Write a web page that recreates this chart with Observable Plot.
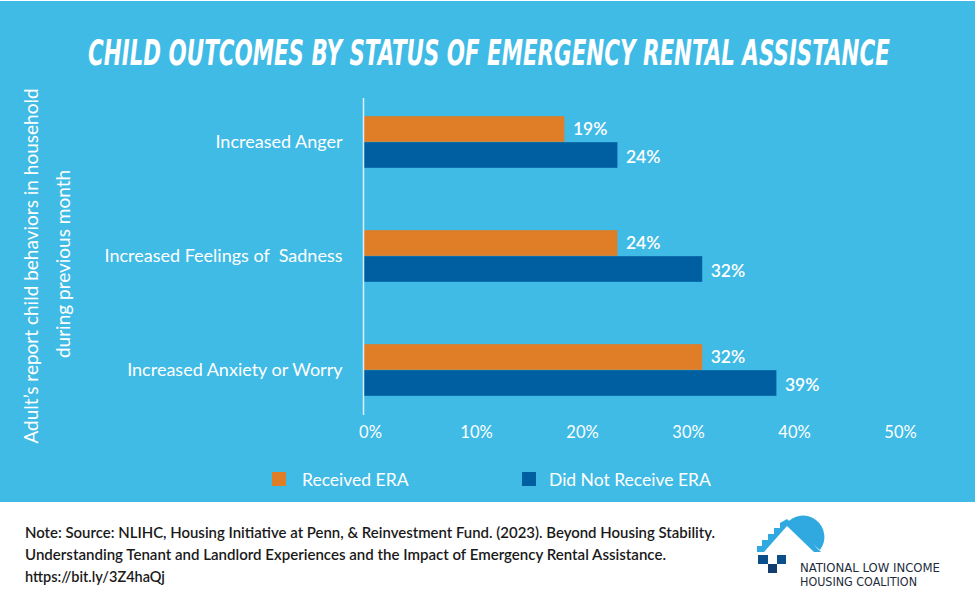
<!DOCTYPE html>
<html>
<head>
<meta charset="utf-8">
<script src="https://cdn.jsdelivr.net/npm/d3@7"></script>
<script src="https://cdn.jsdelivr.net/npm/@observablehq/plot@0.6"></script>
<style>
  html, body { margin: 0; padding: 0; background: #ffffff; }
  #page { position: relative; width: 975px; height: 600px; overflow: hidden; font-family: Lato, "Open Sans", sans-serif; }
  #panel { position: absolute; left: 0; top: 1px; width: 975px; height: 501px; background: #40BBE6; }
  #chart { position: absolute; left: 0; top: 0; }
  .abs { position: absolute; }
  .legend-item { position: absolute; top: 468px; display: flex; align-items: center; color: #ffffff; font-size: 17.5px; height: 22px; }
  .swatch { width: 14px; height: 14px; }
</style>
</head>
<body>
<div id="page">
  <div id="panel"></div>
  <svg class="abs" style="left:0;top:0" width="975" height="502">
    <text id="title" x="489" y="65" text-anchor="middle"
      fill="#ffffff" font-family="'Liberation Sans Narrow', 'DejaVu Sans Condensed', sans-serif" font-style="italic" font-weight="bold" font-size="35">CHILD OUTCOMES BY STATUS OF EMERGENCY RENTAL ASSISTANCE</text>
    <g fill="#ffffff" font-family="Lato, sans-serif" font-size="19" text-anchor="middle" dominant-baseline="central">
      <text transform="translate(30,266) rotate(-90)">Adult’s report child behaviors in household</text>
      <text transform="translate(62,264) rotate(-90)">during previous month</text>
    </g>
  </svg>
  <div id="chart"></div>
  <div class="legend-item" style="left:272px"><div class="swatch" style="background:#E07E27;margin-right:16px"></div><span>Received ERA</span></div>
  <div class="legend-item" style="left:522px"><div class="swatch" style="background:#005FA0;margin-right:13px"></div><span>Did Not Receive ERA</span></div>
  <svg class="abs" style="left:0;top:502px" width="975" height="98">
    <g fill="#1a1a1a" font-family="Lato, sans-serif" font-size="14.5" font-weight="600">
      <text x="25" y="36" textLength="690" lengthAdjust="spacingAndGlyphs">Note:  Source: NLIHC, Housing Initiative at Penn, &amp; Reinvestment Fund. (2023). Beyond Housing Stability.</text>
      <text x="25" y="58" textLength="641" lengthAdjust="spacingAndGlyphs">Understanding Tenant and Landlord Experiences and the Impact of Emergency Rental Assistance.</text>
      <text x="25" y="80">https://bit.ly/3Z4haQj</text>
    </g>
    <!-- logo -->
    <g>
      <path d="M786,22 A20,20 0 0 1 820,48 Z" fill="#2FA9E0"/>
      <path d="M757,50 L757,44 L762,44 L762,38 L768,38 L768,32 L774,32 L774,26 L780,26 L780,21 L787,17 L821,50 L814,50 L787,24 L764,50 Z" fill="#2FA9E0"/>
      <rect x="758" y="53" width="10" height="9" fill="#0B4F8A"/>
      <rect x="777" y="53" width="9" height="9" fill="#0B4F8A"/>
      <rect x="768" y="62" width="9" height="9" fill="#123D6E"/>
      <g fill="#1d2b3a" font-family="'Liberation Sans Narrow', 'DejaVu Sans Condensed', sans-serif" font-size="13">
        <text x="800" y="70" textLength="140" lengthAdjust="spacingAndGlyphs">NATIONAL LOW INCOME</text>
        <text x="800" y="84" textLength="117" lengthAdjust="spacingAndGlyphs">HOUSING COALITION</text>
      </g>
    </g>
  </svg>
</div>
<script>
const categories = ["Increased Anger", "Increased Feelings of  Sadness", "Increased Anxiety or Worry"];
const seriesNames = ["Received ERA", "Did Not Receive ERA"];
const receivedERA = [19, 24, 32];
const didNotReceiveERA = [24, 32, 39];
const xTicks = [0, 10, 20, 30, 40, 50];
const seriesColors = ["#E07E27", "#005FA0"];

// fit the title to the reference width
(function () {
  const t = document.getElementById("title");
  const w = t.getComputedTextLength();
  const target = 802, cx = 489;
  if (w > 0) t.setAttribute("transform", `translate(${cx},0) scale(${target / w},1) translate(${-cx},0)`);
})();

const W = 975, H = 500;
const marginTop = 84, marginBottom = 73;
const band = (H - marginTop - marginBottom) / categories.length;
const barH = 26;

const rec = categories.map((c, i) => ({category: c, series: seriesNames[0], value: receivedERA[i]}));
const notRec = categories.map((c, i) => ({category: c, series: seriesNames[1], value: didNotReceiveERA[i]}));

const chart = Plot.plot({
  width: W,
  height: H,
  marginLeft: 363,
  marginRight: 82,
  marginTop,
  marginBottom,
  style: {background: "transparent", color: "#ffffff", fontFamily: "Lato, sans-serif", fontSize: "18px", overflow: "visible"},
  x: {domain: [0, 50], axis: null},
  y: {domain: categories, padding: 0, tickSize: 0, tickPadding: 21, label: null},
  marks: [
    Plot.barX(rec, {y: "category", x: "value", fill: seriesColors[0], insetTop: band / 2 - barH, insetBottom: band / 2}),
    Plot.barX(notRec, {y: "category", x: "value", fill: seriesColors[1], insetTop: band / 2, insetBottom: band / 2 - barH}),
    Plot.ruleX([0], {stroke: "#d9f0fa", strokeWidth: 1.5, insetTop: 14, insetBottom: 12}),
    Plot.text(rec, {y: "category", x: "value", text: d => d.value + "%", dx: 8, dy: -13, textAnchor: "start", fill: "#ffffff", fontSize: 17.5, fontWeight: 600}),
    Plot.text(notRec, {y: "category", x: "value", text: d => d.value + "%", dx: 8, dy: 15, textAnchor: "start", fill: "#ffffff", fontSize: 17.5, fontWeight: 600}),
    Plot.text(xTicks, {x: d => d, text: d => d + "%", frameAnchor: "bottom", lineAnchor: "top", dy: -1, dx: 7, fill: "#ffffff", fontSize: 16.5})
  ]
});
document.getElementById("chart").appendChild(chart);
</script>
</body>
</html>
